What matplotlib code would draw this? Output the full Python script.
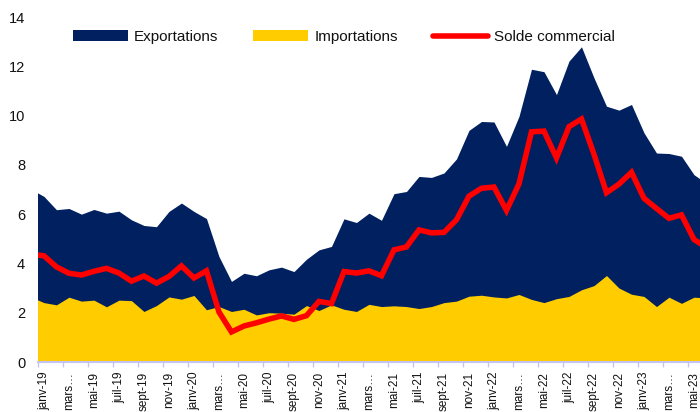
import matplotlib
matplotlib.use("Agg")
import matplotlib.pyplot as plt
from matplotlib.patches import Patch
from matplotlib.lines import Line2D
import numpy as np

# Monthly data, Dec 2018 .. Jun 2023 (first and last months are partially clipped)
months = ["déc-18",
          "janv-19", "févr-19", "mars-19", "avr-19", "mai-19", "juin-19", "juil-19", "août-19", "sept-19", "oct-19", "nov-19", "déc-19",
          "janv-20", "févr-20", "mars-20", "avr-20", "mai-20", "juin-20", "juil-20", "août-20", "sept-20", "oct-20", "nov-20", "déc-20",
          "janv-21", "févr-21", "mars-21", "avr-21", "mai-21", "juin-21", "juil-21", "août-21", "sept-21", "oct-21", "nov-21", "déc-21",
          "janv-22", "févr-22", "mars-22", "avr-22", "mai-22", "juin-22", "juil-22", "août-22", "sept-22", "oct-22", "nov-22", "déc-22",
          "janv-23", "févr-23", "mars-23", "avr-23", "mai-23", "juin-23"]

exportations = [7.00,
                6.72, 6.18, 6.23, 6.00, 6.19, 6.04, 6.12, 5.77, 5.54, 5.49, 6.11, 6.45,
                6.11, 5.82, 4.28, 3.27, 3.60, 3.50, 3.74, 3.85, 3.67, 4.17, 4.55, 4.69,
                5.81, 5.66, 6.04, 5.75, 6.83, 6.92, 7.53, 7.49, 7.67, 8.24, 9.40, 9.76,
                9.74, 8.75, 9.97, 11.88, 11.78, 10.85, 12.21, 12.79, 11.53, 10.38, 10.22, 10.45,
                9.30, 8.48, 8.46, 8.35, 7.60, 7.25]

importations = [2.63,
                2.41, 2.32, 2.63, 2.47, 2.51, 2.24, 2.51, 2.49, 2.05, 2.29, 2.64, 2.55,
                2.70, 2.12, 2.25, 2.05, 2.14, 1.91, 2.00, 1.98, 1.94, 2.29, 2.09, 2.32,
                2.14, 2.05, 2.34, 2.25, 2.28, 2.25, 2.17, 2.25, 2.41, 2.47, 2.67, 2.71,
                2.64, 2.60, 2.74, 2.54, 2.41, 2.57, 2.66, 2.93, 3.10, 3.51, 3.00, 2.75,
                2.66, 2.25, 2.63, 2.38, 2.63, 2.60]

solde = [4.37,
         4.31, 3.86, 3.60, 3.53, 3.68, 3.80, 3.61, 3.28, 3.49, 3.20, 3.47, 3.90,
         3.41, 3.70, 2.03, 1.22, 1.46, 1.59, 1.74, 1.87, 1.73, 1.88, 2.46, 2.37,
         3.67, 3.61, 3.70, 3.50, 4.55, 4.67, 5.36, 5.24, 5.26, 5.77, 6.73, 7.05,
         7.10, 6.15, 7.23, 9.34, 9.37, 8.28, 9.55, 9.86, 8.43, 6.87, 7.22, 7.70,
         6.64, 6.23, 5.83, 5.97, 4.97, 4.65]

series_names = ["Exportations", "Importations", "Solde commercial"]
y_ticks = [0, 2, 4, 6, 8, 10, 12, 14]

NAVY = "#002060"
YELLOW = "#FFCC00"
RED = "#FF0000"
AXIS = "#C4C4F2"

x = np.arange(len(months)) - 1  # janv-19 at 0

fig = plt.figure(figsize=(7.0, 4.12), dpi=100)
W, H = 700, 412
left_px, right_px, bottom_px, top_px = 37.7, 700, 362, 17
ax = fig.add_axes([left_px / W, (H - bottom_px) / H, (right_px - left_px) / W, (bottom_px - top_px) / H])

ax.fill_between(x, 0, exportations, color=NAVY, lw=0, zorder=1)
ax.fill_between(x, 0, importations, color=YELLOW, lw=0, zorder=2)
ax.plot(x, solde, color=RED, lw=4, zorder=3, solid_joinstyle="miter")

for s in ["top", "right", "left"]:
    ax.spines[s].set_visible(False)
ax.spines["bottom"].set_color(AXIS)
ax.spines["bottom"].set_linewidth(1.5)
ax.spines["bottom"].set_zorder(5)

ax.set_yticks(y_ticks)
ax.set_yticklabels([str(v) for v in y_ticks], family="Liberation Sans", fontsize=10.5, color="#111111")
ax.tick_params(axis="y", length=0, pad=9)

# category labels every two months, tick marks at category boundaries
lab_pos = [xi for xi in x if xi >= 0 and xi % 2 == 0]
lab_txt = []
for xi in lab_pos:
    m = months[xi + 1]
    lab_txt.append("mars…" if m.startswith("mars") else m)
ax.set_xticks([p - 0.5 for p in lab_pos])
ax.set_xticklabels([])
ax.tick_params(axis="x", which="major", length=3.5, width=1, color=AXIS, direction="out")
ax.set_xticks(lab_pos, minor=True)
ax.set_xticklabels(lab_txt, minor=True, rotation=90, ha="center", va="top",
                   family="Liberation Sans", fontsize=8.5, color="#111111")
ax.tick_params(axis="x", which="minor", length=0, pad=7)

ax.set_xlim(-0.5, (700 - 44) / 12.5)
ax.set_ylim(0, 14)

handles = [Patch(facecolor=NAVY, edgecolor="none"),
           Patch(facecolor=YELLOW, edgecolor="none"),
           Line2D([0], [0], color=RED, lw=4, solid_capstyle="round")]
leg = ax.legend(handles, series_names, ncol=3, frameon=False, loc="center",
                bbox_to_anchor=(0.462, 0.942), prop={"family": "Liberation Sans", "size": 11},
                handlelength=3.6, handleheight=0.7, handletextpad=0.4, columnspacing=2.3)
for t in leg.get_texts():
    t.set_color("#111111")

fig.savefig("out.png", dpi=100)
